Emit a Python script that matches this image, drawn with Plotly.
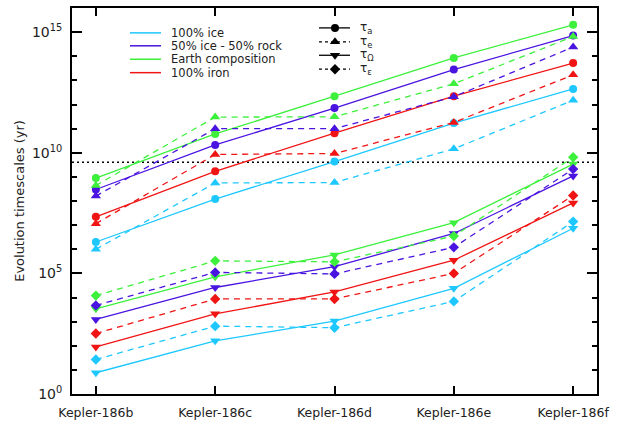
import plotly.graph_objects as go

planets = ["Kepler-186b", "Kepler-186c", "Kepler-186d", "Kepler-186e", "Kepler-186f"]
compositions = ["100% ice", "50% ice - 50% rock", "Earth composition", "100% iron"]
colors = ["#1ec8ff", "#4a14e0", "#3cf03c", "#f01414"]

# Evolution timescales in years, one list per composition
tau_a = [
    [2.0e6, 1.2e8, 4.3e9, 1.7e11, 4.4e12],
    [3.0e8, 2.1e10, 7.1e11, 2.8e13, 7.2e14],
    [8.9e8, 6.0e10, 2.2e12, 8.5e13, 2.0e15],
    [2.2e7, 1.7e9, 6.5e10, 2.2e12, 5.2e13],
]
tau_e = [
    [1.0e6, 5.6e8, 5.8e8, 1.45e10, 1.5e12],
    [1.6e8, 1.0e11, 1.0e11, 2.1e12, 2.4e14],
    [4.4e8, 3.0e11, 3.1e11, 7.2e12, 6.6e14],
    [1.15e7, 8.5e9, 9.3e9, 1.8e11, 1.7e13],
]
tau_omega = [
    [7.6, 160, 1050, 2.4e4, 7.4e6],
    [1230, 2.6e4, 1.9e5, 4.5e6, 1.1e9],
    [3400, 7.2e4, 5.8e5, 1.26e7, 3.4e9],
    [89, 2100, 1.7e4, 3.5e5, 8.3e7],
]
tau_eps = [
    [27, 650, 560, 6900, 1.4e7],
    [4700, 1.1e5, 9.5e4, 1.2e6, 2.1e9],
    [1.2e4, 3.3e5, 3.0e5, 3.5e6, 6.5e9],
    [320, 8700, 8700, 1.0e5, 1.7e8],
]
stellar_age = 4.0e9

timescales = [
    ("τ<sub>a</sub>", tau_a, "circle", "solid", 8),
    ("τ<sub>e</sub>", tau_e, "triangle-up", "6px,5px", 9),
    ("τ<sub>Ω</sub>", tau_omega, "triangle-down", "solid", 9),
    ("τ<sub>ε</sub>", tau_eps, "diamond", "6px,5px", 8),
]

x_idx = list(range(len(planets)))
fig = go.Figure()

# age reference line
fig.add_trace(go.Scatter(
    x=[-0.2, 4.2], y=[stellar_age, stellar_age], mode="lines",
    line=dict(color="black", width=1.5, dash="2px,3px"),
    showlegend=False, hoverinfo="skip",
))

for name, series, symbol, dash, msize in timescales:
    for comp, col, vals in zip(compositions, colors, series):
        fig.add_trace(go.Scatter(
            x=x_idx, y=vals, mode="lines+markers",
            line=dict(color=col, width=1.3, dash=dash),
            marker=dict(symbol=symbol, size=msize, color=col, line=dict(width=0)),
            showlegend=False, name=f"{comp} {name}",
        ))

# Legend drawn in a pixel-like overlay frame
LX = dict(xaxis="x2", yaxis="y2", showlegend=False, hoverinfo="skip")
color_rows = [31, 44, 57.5, 71]
for comp, col, yy in zip(compositions, colors, color_rows):
    fig.add_trace(go.Scatter(x=[130, 161], y=[yy, yy], mode="lines",
                             line=dict(color=col, width=1.5), **LX))
    fig.add_annotation(x=169, y=yy, xref="x2", yref="y2", text=comp, showarrow=False,
                       xanchor="left", yanchor="middle",
                       font=dict(family="DejaVu Sans", size=11.5, color="#222"))

sym_rows = [26, 40, 53.5, 67.5]
for (name, _, symbol, dash, msize), yy in zip(timescales, sym_rows):
    fig.add_trace(go.Scatter(x=[319, 350], y=[yy, yy], mode="lines",
                             line=dict(color="black", width=1.3, dash=dash.replace("6px,5px", "3px,3px")), **LX))
    fig.add_trace(go.Scatter(x=[335], y=[yy], mode="markers",
                             marker=dict(symbol=symbol, size=msize, color="black"), **LX))
    fig.add_annotation(x=358, y=yy, xref="x2", yref="y2", text=name, showarrow=False,
                       xanchor="left", yanchor="middle",
                       font=dict(family="DejaVu Sans", size=12, color="#222"))

major = [1, 1e5, 1e10, 1e15]
minor = [10.0 ** k for k in range(0, 17) if k % 5 != 0]

fig.update_layout(
    width=620, height=426,
    margin=dict(l=72, r=23, t=6, b=32),
    paper_bgcolor="white", plot_bgcolor="white",
    font=dict(family="DejaVu Sans", size=12, color="#222"),
    xaxis=dict(
        range=[-0.2, 4.2], tickmode="array", tickvals=x_idx, ticktext=planets,
        ticks="inside", ticklen=8, tickwidth=1.5, tickcolor="black",
        showline=True, linecolor="black", linewidth=2, mirror="allticks",
        showgrid=False, zeroline=False, tickfont=dict(size=12.5),
        ticklabelstandoff=6,
    ),
    yaxis=dict(
        type="log", range=[0, 16], tickmode="array", tickvals=major,
        ticktext=["10<sup>0</sup>", "10<sup>5</sup>", "10<sup>10</sup>", "10<sup>15</sup>"],
        ticks="inside", ticklen=10, tickwidth=1.5, tickcolor="black",
        minor=dict(tickmode="array", tickvals=minor, ticks="inside", ticklen=5,
                   tickwidth=1.5, tickcolor="black", showgrid=False),
        showline=True, linecolor="black", linewidth=2, mirror="allticks",
        showgrid=False, zeroline=False, tickfont=dict(size=14),
        ticklabelstandoff=5,
        title=dict(text="Evolution timescales (yr)", font=dict(size=13), standoff=4),
    ),
    xaxis2=dict(range=[72, 597], overlaying="x", visible=False, fixedrange=True),
    yaxis2=dict(range=[394, 6], overlaying="y", visible=False, fixedrange=True),
)

fig.write_html("out.html")
